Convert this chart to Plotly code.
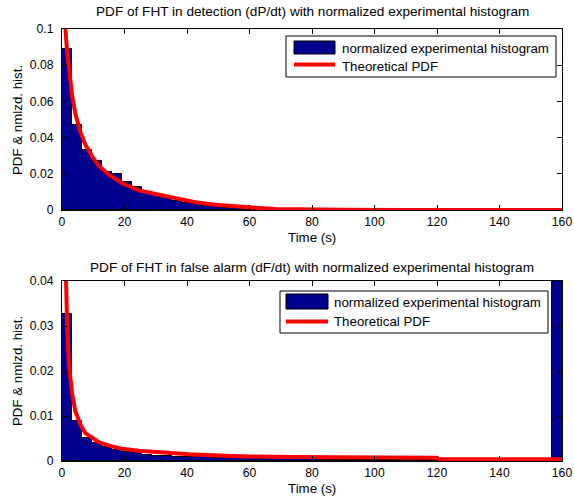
import plotly.graph_objects as go

# ---------------- data ----------------
bin_centers = [1.6, 4.8, 8.0, 11.2, 14.4, 17.6, 20.8, 24.0, 27.2, 30.4,
               33.6, 36.8, 40.0, 43.2, 46.4, 49.6, 52.8, 56.0, 59.2, 62.4,
               65.6, 68.8, 72.0, 75.2, 78.4, 81.6, 84.8, 88.0, 91.2, 94.4,
               97.6, 100.8, 104.0, 107.2, 110.4, 113.6, 116.8, 120.0, 123.2, 126.4,
               129.6, 132.8, 136.0, 139.2, 142.4, 145.6, 148.8, 152.0, 155.2, 158.4]

hist_detection = [0.0890, 0.0470, 0.0332, 0.0271, 0.0209, 0.0197, 0.0155, 0.0125, 0.0098, 0.0085,
                  0.0065, 0.0052, 0.0041, 0.0031, 0.0024, 0.0018, 0.0013, 0.0010, 0.0008, 0.0006,
                  0.0005, 0.0004, 0.0003, 0.00025, 0.0002, 0.00015, 0.00012, 0.0001, 0.00008, 0.00006,
                  0.00005, 0.00004, 0.00003, 0.00003, 0.00002, 0.00002, 0.00001, 0.00001, 0.0, 0.0,
                  0.0, 0.0, 0.0, 0.0, 0.0, 0.0, 0.0, 0.0, 0.0, 0.0]

hist_false_alarm = [0.0327, 0.0090, 0.0051, 0.0040, 0.0031, 0.0024, 0.0019, 0.0017, 0.0014, 0.0012,
                    0.0011, 0.0010, 0.0009, 0.0008, 0.0008, 0.0007, 0.0007, 0.0006, 0.0006, 0.0006,
                    0.0005, 0.0005, 0.0005, 0.0004, 0.0004, 0.0004, 0.0003, 0.0003, 0.0003, 0.0003,
                    0.0003, 0.0003, 0.0003, 0.0003, 0.0002, 0.0002, 0.0002, 0.0002, 0.0002, 0.0002,
                    0.0002, 0.0002, 0.0002, 0.0002, 0.0002, 0.0002, 0.0002, 0.0002, 0.0002, 0.0520]

pdf_det_t = [0.7, 1.1, 1.6, 2.2, 3.3, 4.3, 5.9, 7.5, 9.7, 11.8, 15.0, 19.3, 24.6, 29.9,
             36.3, 42.7, 49.1, 55.5, 61.9, 68.3, 75.0, 90.0, 110.0, 130.0, 160.0]
pdf_det_y = [0.130, 0.100, 0.088, 0.078, 0.0625, 0.053, 0.043, 0.036, 0.0295, 0.0245, 0.0195,
             0.0148, 0.0108, 0.0088, 0.0066, 0.0043, 0.0029, 0.0019, 0.0012, 0.0006, 0.0003,
             0.0001, 0.00005, 0.00003, 0.00002]

pdf_fa_t = [0.6, 1.1, 1.66, 2.2, 3.3, 4.3, 5.9, 7.5, 9.7, 11.8, 15.0, 19.3, 24.6, 29.9,
            35.0, 40.6, 48.0, 59.8, 72.6, 80.0, 80.5, 120.0, 120.5, 160.0]
pdf_fa_y = [0.060, 0.040, 0.0296, 0.0214, 0.0147, 0.0110, 0.0081, 0.0062, 0.0051, 0.0042,
            0.0034, 0.0027, 0.0023, 0.0020, 0.0017, 0.0015, 0.0013, 0.0010, 0.0009, 0.0009,
            0.0007, 0.0007, 0.0004, 0.0004]

x_ticks = [0, 20, 40, 60, 80, 100, 120, 140, 160]
y_ticks_top = [0, 0.02, 0.04, 0.06, 0.08, 0.1]
y_ticks_top_text = ["0", "0.02", "0.04", "0.06", "0.08", "0.1"]
y_ticks_bot = [0, 0.01, 0.02, 0.03, 0.04]
y_ticks_bot_text = ["0", "0.01", "0.02", "0.03", "0.04"]

titles = ["PDF of FHT in detection (dP/dt) with normalized experimental histogram",
          "PDF of FHT in false alarm (dF/dt) with normalized experimental histogram"]
legend_labels = ["normalized experimental histogram", "Theoretical PDF"]
x_label = "Time (s)"
y_label = "PDF &amp; nmlzd. hist."

# ---------------- style ----------------
NAVY = "#00008F"
RED = "#FF0000"
FONT = "Liberation Sans, Arial, Helvetica, sans-serif"
W, H = 574, 498
PL, PR, PT, PB = 62, 562, 29, 461   # plot area in window pixels
ML, MR, MT, MB = PL, W - PR, PT, H - PB
PW, PH = PR - PL, PB - PT
TXT = 13.3
TTL = 13.6


def px(xs):
    return (xs - PL) / PW


def py(ys):
    return (PB - ys) / PH


fig = go.Figure()

fig.add_trace(go.Bar(x=bin_centers, y=hist_detection, width=3.2,
                     marker=dict(color=NAVY, line=dict(color="black", width=1)),
                     xaxis="x", yaxis="y", showlegend=False, name=legend_labels[0]))
fig.add_trace(go.Scatter(x=pdf_det_t, y=pdf_det_y, mode="lines",
                         line=dict(color=RED, width=4), xaxis="x", yaxis="y",
                         showlegend=False, name=legend_labels[1]))
fig.add_trace(go.Bar(x=bin_centers, y=hist_false_alarm, width=3.2,
                     marker=dict(color=NAVY, line=dict(color="black", width=1)),
                     xaxis="x2", yaxis="y2", showlegend=False, name=legend_labels[0]))
fig.add_trace(go.Scatter(x=pdf_fa_t, y=pdf_fa_y, mode="lines",
                         line=dict(color=RED, width=4), xaxis="x2", yaxis="y2",
                         showlegend=False, name=legend_labels[1]))

axis_common = dict(showline=True, linecolor="black", linewidth=1, mirror="ticks",
                   ticks="inside", ticklen=5, tickcolor="black", showgrid=False,
                   zeroline=False, automargin=False,
                   tickfont=dict(family=FONT, size=12.2, color="black"))

top_dom = [py(210), py(29)]
bot_dom = [py(461), py(281)]

fig.update_layout(
    width=W, height=H,
    margin=dict(l=ML, r=MR, t=MT, b=MB, autoexpand=False),
    paper_bgcolor="white", plot_bgcolor="white",
    bargap=0,
    font=dict(family=FONT, size=TXT, color="black"),
    xaxis=dict(domain=[0, 1], range=[0, 160], tickvals=x_ticks, anchor="y",
               ticklabelstandoff=0, **axis_common),
    yaxis=dict(domain=top_dom, range=[0, 0.1], tickvals=y_ticks_top, ticktext=y_ticks_top_text,
               anchor="x", ticklabelstandoff=5, **axis_common),
    xaxis2=dict(domain=[0, 1], range=[0, 160], tickvals=x_ticks, anchor="y2",
                ticklabelstandoff=0, **axis_common),
    yaxis2=dict(domain=bot_dom, range=[0, 0.04], tickvals=y_ticks_bot, ticktext=y_ticks_bot_text,
                anchor="x2", ticklabelstandoff=5, **axis_common),
)

ann = []
# titles
ann.append(dict(text=titles[0], x=0.5, y=py(12), xref="paper", yref="paper",
                showarrow=False, xanchor="center", yanchor="middle", font=dict(size=TTL)))
ann.append(dict(text=titles[1], x=0.5, y=py(267), xref="paper", yref="paper",
                showarrow=False, xanchor="center", yanchor="middle", font=dict(size=TTL)))
# x labels
ann.append(dict(text=x_label, x=0.5, y=py(237), xref="paper", yref="paper",
                showarrow=False, xanchor="center", yanchor="middle", font=dict(size=TXT)))
ann.append(dict(text=x_label, x=0.5, y=py(488), xref="paper", yref="paper",
                showarrow=False, xanchor="center", yanchor="middle", font=dict(size=TXT)))
# y labels
ann.append(dict(text=y_label, x=px(17), y=py(120), xref="paper", yref="paper", textangle=-90,
                showarrow=False, xanchor="center", yanchor="middle", font=dict(size=TXT)))
ann.append(dict(text=y_label, x=px(17), y=py(371), xref="paper", yref="paper", textangle=-90,
                showarrow=False, xanchor="center", yanchor="middle", font=dict(size=TXT)))

shapes = []
# custom MATLAB-style legends: (box x0,x1,y0,y1, patch x0,x1,y0,y1, line y, text x, row1 y, row2 y)
legends = [
    (286, 556, 36, 77, 294, 335, 41, 54, 64.5, 340, 48, 67),
    (280, 548, 291, 333, 286, 328, 294, 309, 321.5, 332, 302, 321),
]
for (bx0, bx1, by0, by1, qx0, qx1, qy0, qy1, ly, tx, r1, r2) in legends:
    shapes.append(dict(type="rect", xref="paper", yref="paper", x0=px(bx0), x1=px(bx1),
                       y0=py(by1), y1=py(by0), line=dict(color="black", width=1),
                       fillcolor="white", layer="above"))
    shapes.append(dict(type="rect", xref="paper", yref="paper", x0=px(qx0), x1=px(qx1),
                       y0=py(qy1), y1=py(qy0), line=dict(color="black", width=1),
                       fillcolor=NAVY, layer="above"))
    shapes.append(dict(type="line", xref="paper", yref="paper", x0=px(qx0), x1=px(qx1),
                       y0=py(ly), y1=py(ly), line=dict(color=RED, width=4), layer="above"))
    ann.append(dict(text=legend_labels[0], x=px(tx), y=py(r1), xref="paper", yref="paper",
                    showarrow=False, xanchor="left", yanchor="middle", font=dict(size=TXT)))
    ann.append(dict(text=legend_labels[1], x=px(tx), y=py(r2), xref="paper", yref="paper",
                    showarrow=False, xanchor="left", yanchor="middle", font=dict(size=TXT)))

fig.update_layout(annotations=ann, shapes=shapes)

# remove the browser's default 8px body margin so the figure fills the window exactly
fig.write_html("out.html", config={"displayModeBar": False},
               post_script="document.body.style.margin='0';document.body.style.overflow='hidden';")
